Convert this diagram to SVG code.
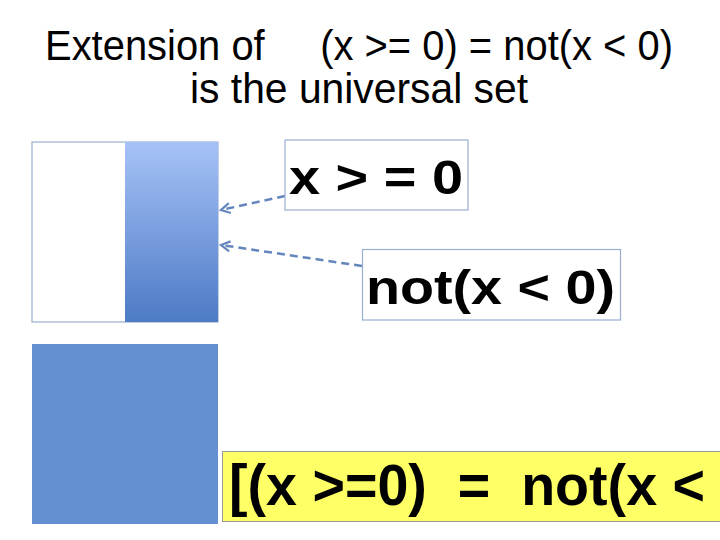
<svg xmlns="http://www.w3.org/2000/svg" width="720" height="540" viewBox="0 0 720 540">
<style>
.title{font-family:"Liberation Sans","DejaVu Sans",sans-serif;font-size:42px;fill:#000;}
.lbl{font-family:"Liberation Sans","DejaVu Sans",sans-serif;font-weight:bold;font-size:48px;fill:#000;white-space:pre;}
.box{fill:#fff;stroke:#9aaed0;stroke-width:1.2;}
.conn{fill:none;stroke:#6586bd;stroke-width:2.5;stroke-dasharray:8,5;}
</style>
<defs>
<linearGradient id="g" x1="0" y1="0" x2="0" y2="1">
<stop offset="0" stop-color="#a7c2f7"/>
<stop offset="1" stop-color="#4d7bc5"/>
</linearGradient>
<marker id="ah" markerWidth="14" markerHeight="14" refX="11" refY="7" orient="auto" markerUnits="userSpaceOnUse">
<path d="M2,2 L11,7 L2,12" fill="none" stroke="#6586bd" stroke-width="2.2"/>
</marker>
</defs>
<rect width="720" height="540" fill="#fff"/>
<g id="title">
<text class="title" x="45" y="60" textLength="628" lengthAdjust="spacingAndGlyphs" xml:space="preserve">Extension of     (x &gt;= 0) = not(x &lt; 0)</text>
<text class="title" x="190" y="103" textLength="338" lengthAdjust="spacingAndGlyphs">is the universal set</text>
</g>
<g id="set-top">
<rect x="32" y="142" width="186" height="180" fill="#fff" stroke="#9aaed0" stroke-width="1.2"/>
<rect x="125" y="142" width="93" height="180" fill="url(#g)"/>
</g>
<g id="set-bottom">
<rect x="32" y="344" width="186" height="180" fill="#648fd0"/>
</g>
<g id="connectors">
<path class="conn" d="M285,196 L221,210" marker-end="url(#ah)"/>
<path class="conn" d="M362,266 L221,245" marker-end="url(#ah)"/>
</g>
<g id="label-ge">
<rect class="box" x="285" y="140" width="183" height="70"/>
<text class="lbl" x="289" y="194" textLength="174" lengthAdjust="spacingAndGlyphs" xml:space="preserve">x &gt; = 0</text>
</g>
<g id="label-not">
<rect class="box" x="362.5" y="249.5" width="258" height="70.5"/>
<text class="lbl" x="366" y="304" textLength="249" lengthAdjust="spacingAndGlyphs">not(x &lt; 0)</text>
</g>
<g id="equation">
<rect x="222.5" y="451.5" width="500" height="70" fill="#ffff66" stroke="#9a9a9a" stroke-width="1"/>
<text x="229" y="505" font-family="Liberation Sans, DejaVu Sans, sans-serif" font-weight="bold" font-size="57" textLength="476" lengthAdjust="spacingAndGlyphs" xml:space="preserve">[(x &gt;=0)  =  not(x &lt;</text>
</g>
</svg>
